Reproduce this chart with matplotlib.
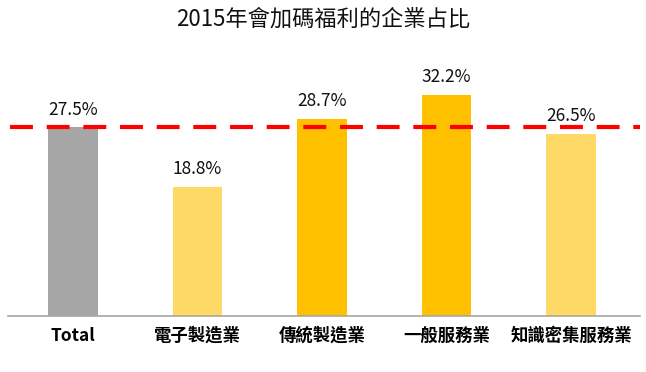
import matplotlib
matplotlib.use("Agg")
import matplotlib.pyplot as plt

plt.rcParams['font.family'] = ['Noto Sans CJK TC', 'DejaVu Sans']

title = "2015年會加碼福利的企業占比"
categories = ["Total", "電子製造業", "傳統製造業", "一般服務業", "知識密集服務業"]
values = [27.5, 18.8, 28.7, 32.2, 26.5]
colors = ["#A6A6A6", "#FFD966", "#FFC000", "#FFC000", "#FFD966"]
reference_value = 27.5

fig = plt.figure(figsize=(6.46, 3.72), dpi=100)
ax = fig.add_axes([8/646, 56/372, 632/646, 275/372])

x = list(range(len(categories)))
bars = ax.bar(x, values, width=0.4, color=colors, zorder=2)
for xi, v in zip(x, values):
    ax.annotate(f"{v}%", (xi, v), xytext=(0, 6), textcoords="offset points",
                ha="center", va="bottom", fontsize=12.5, fontweight="medium",
                color="#111111")

ax.axhline(reference_value, color="#FF0000", lw=3, ls=(0, (5.5, 3.3)), zorder=3,
           xmin=0.003, xmax=1.0)

ax.set_xlim(-0.522, 4.554)
ax.set_ylim(0, 40)
ax.set_xticks(x)
ax.set_xticklabels(categories, fontsize=12.5, fontweight="bold")
ax.tick_params(axis="x", length=0, pad=8)
ax.set_yticks([])
for s in ["top", "right", "left"]:
    ax.spines[s].set_visible(False)
ax.spines["bottom"].set_color("#A6A6A6")
ax.spines["bottom"].set_linewidth(1.2)

fig.text(0.5, 1 - 19/372, title, ha="center", va="center", fontsize=16,
         fontweight="medium", color="#111111")

fig.savefig("out.png", dpi=100)
